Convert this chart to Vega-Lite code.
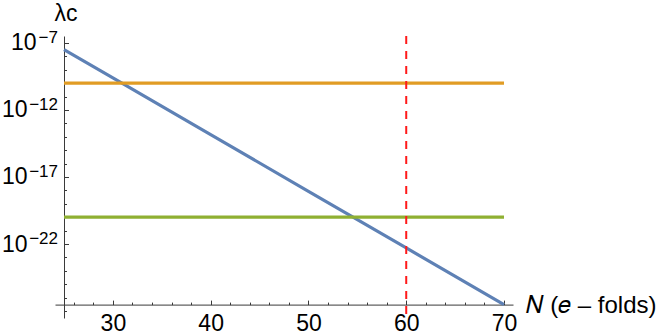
{
  "$schema": "https://vega.github.io/schema/vega-lite/v6.json",
  "width": 458,
  "height": 282,
  "autosize": "none",
  "padding": {"left": 55, "top": 36, "right": 151, "bottom": 17},
  "background": "white",
  "config": {
    "view": {"stroke": null},
    "font": "Liberation Sans",
    "axis": {
      "grid": false,
      "domainColor": "#3a3a3a",
      "tickColor": "#3a3a3a",
      "labelColor": "#000000",
      "titleColor": "#000000",
      "labelFont": "Liberation Sans",
      "titleFont": "Liberation Sans",
      "domainWidth": 1,
      "tickWidth": 1,
      "labelFlush": false
    }
  },
  "datasets": {
    "curves": [
      {"series": "lambda_c(N)", "N": 25, "lambda": 3.16e-8},
      {"series": "lambda_c(N)", "N": 30, "lambda": 2.45e-10},
      {"series": "lambda_c(N)", "N": 40, "lambda": 1.45e-14},
      {"series": "lambda_c(N)", "N": 50, "lambda": 8.5e-19},
      {"series": "lambda_c(N)", "N": 60, "lambda": 5.1e-23},
      {"series": "lambda_c(N)", "N": 70, "lambda": 3.0e-27},
      {"series": "upper", "N": 25, "lambda": 1e-10},
      {"series": "upper", "N": 70, "lambda": 1e-10},
      {"series": "lower", "N": 25, "lambda": 1e-20},
      {"series": "lower", "N": 70, "lambda": 1e-20}
    ],
    "exps": [
      {"v": 1e-7, "e": "−7"},
      {"v": 1e-12, "e": "−12"},
      {"v": 1e-17, "e": "−17"},
      {"v": 1e-22, "e": "−22"}
    ],
    "cutoff": [{"N": 60}],
    "ytitle": [{"N": 25, "lambda": 3.31e-7, "t": "λc"}]
  },
  "layer": [
    {
      "data": {"name": "curves"},
      "mark": {"type": "line", "strokeWidth": 3.2, "clip": true},
      "encoding": {
        "x": {
          "field": "N",
          "type": "quantitative",
          "scale": {"domain": [24.08, 70.92], "nice": false, "zero": false},
          "axis": {
            "values": [26, 28, 30, 32, 34, 36, 38, 40, 42, 44, 46, 48, 50, 52, 54, 56, 58, 60, 62, 64, 66, 68, 70],
            "tickCount": 100,
            "labelExpr": "indexof([30, 40, 50, 60, 70], datum.value) >= 0 ? format(datum.value, 'd') : ''",
            "labelOverlap": false,
            "labelBound": false,
            "offset": -13.4,
            "tickSize": {"condition": {"test": "indexof([30, 40, 50, 60, 70], datum.value) >= 0", "value": -4.5}, "value": -2.5},
            "labelFontSize": 23,
            "labelBaseline": "top",
            "labelPadding": 12.5,
            "title": "𝑁 (𝑒 – folds)",
            "titleFontSize": 24,
            "titleFontWeight": "normal",
            "titleAlign": "left",
            "titleAnchor": "start",
            "titleBaseline": "alphabetic",
            "titleX": 470,
            "titleY": 7.5
          }
        },
        "y": {
          "field": "lambda",
          "type": "quantitative",
          "scale": {"type": "log", "domain": [3.02e-28, 3.31e-7], "nice": false},
          "axis": {
            "values": [1e-27, 1e-26, 1e-25, 1e-24, 1e-23, 1e-22, 1e-21, 1e-20, 1e-19, 1e-18, 1e-17, 1e-16, 1e-15, 1e-14, 1e-13, 1e-12, 1e-11, 1e-10, 1e-9, 1e-8, 1e-7],
            "tickCount": 100,
            "labelExpr": "indexof([-7, -12, -17, -22], round(log(datum.value) / LN10)) >= 0 ? '10' : ''",
            "labelOverlap": false,
            "offset": -9,
            "tickSize": {"condition": {"test": "indexof([-7, -12, -17, -22], round(log(datum.value) / LN10)) >= 0", "value": -4.5}, "value": -2.5},
            "labelFontSize": 23,
            "labelBaseline": "middle",
            "labelPadding": {"condition": {"test": "round(log(datum.value) / LN10) == -7", "value": 32.5}, "value": 41.5},
            "title": null
          }
        },
        "color": {
          "field": "series",
          "type": "nominal",
          "scale": {"domain": ["lambda_c(N)", "upper", "lower"], "range": ["#5E81B5", "#E19C24", "#8FB032"]},
          "legend": null
        }
      }
    },
    {
      "data": {"name": "exps"},
      "mark": {"type": "text", "align": "right", "baseline": "alphabetic", "dx": -6, "dy": 0, "fontSize": 17, "font": "Liberation Sans", "color": "#000000"},
      "encoding": {
        "x": {"datum": 25},
        "y": {"field": "v", "type": "quantitative"},
        "text": {"field": "e"}
      }
    },
    {
      "data": {"name": "ytitle"},
      "mark": {"type": "text", "align": "center", "baseline": "alphabetic", "dx": 2, "dy": -15, "fontSize": 23, "font": "Liberation Sans", "color": "#000000"},
      "encoding": {
        "x": {"field": "N", "type": "quantitative"},
        "y": {"field": "lambda", "type": "quantitative"},
        "text": {"field": "t"}
      }
    },
    {
      "data": {"name": "cutoff"},
      "mark": {"type": "rule", "color": "#FF1A1A", "strokeWidth": 2, "strokeDash": [8, 7]},
      "encoding": {"x": {"field": "N", "type": "quantitative"}}
    }
  ]
}
